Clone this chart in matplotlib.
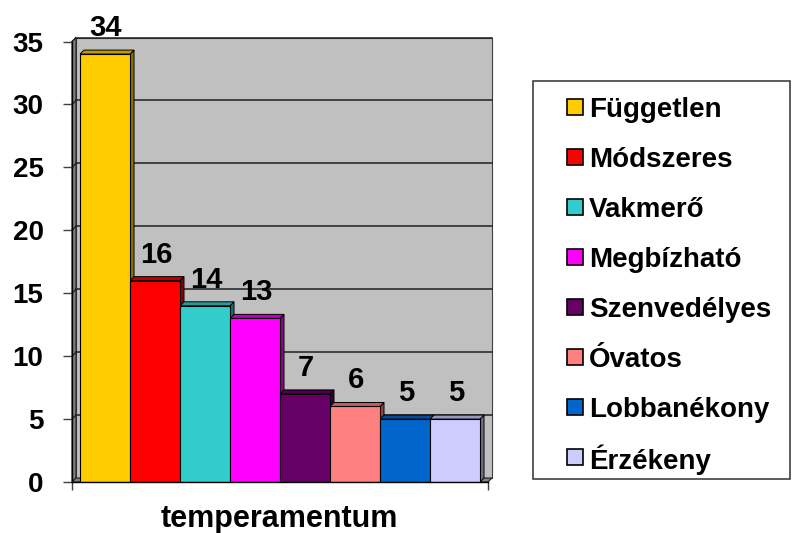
import matplotlib
matplotlib.use("Agg")
import matplotlib.pyplot as plt
from matplotlib.patches import Rectangle, Polygon

plt.rcParams['font.family'] = ['Liberation Sans', 'DejaVu Sans']

categories = ["Független", "Módszeres", "Vakmerő", "Megbízható",
              "Szenvedélyes", "Óvatos", "Lobbanékony", "Érzékeny"]
values = [34, 16, 14, 13, 7, 6, 5, 5]
colors = ["#FFCC00", "#FF0000", "#33CCCC", "#FF00FF",
          "#660066", "#FF8080", "#0066CC", "#CCCCFF"]
yticks = [0, 5, 10, 15, 20, 25, 30, 35]
xlabel = "temperamentum"

W, H = 795, 533
fig = plt.figure(figsize=(W / 100, H / 100), dpi=100)

def fx(px):
    return px / W

def fy(py):
    return 1 - py / H

# front plane of the plot: x 72..488 px, y 41.5 (35) .. 482 (0)
left, right, top, bottom = 72, 488, 41.5, 482
ax = fig.add_axes([fx(left), fy(bottom), fx(right) - fx(left), fy(top) - fy(bottom)])
ax.set_facecolor('none')
n = len(values)
xmin, xmax = -0.16, n + 0.16
ymax = 35
ax.set_xlim(xmin, xmax)
ax.set_ylim(0, ymax)

# depth offset (4 px) in data units
depth_px = 4
dx = depth_px * (xmax - xmin) / (right - left)
dy = depth_px * ymax / (bottom - top)

# walls
ax.add_patch(Rectangle((xmin + dx, dy), xmax - xmin, ymax, facecolor='#C0C0C0',
                       edgecolor='#404040', lw=0.8, zorder=0.5, clip_on=False))
ax.add_patch(Polygon([(xmin, 0), (xmin, ymax), (xmin + dx, ymax + dy), (xmin + dx, dy)],
                     closed=True, facecolor='#808080', edgecolor='#202020', lw=0.8,
                     zorder=0.6, clip_on=False))
ax.add_patch(Polygon([(xmin, 0), (xmax, 0), (xmax + dx, dy), (xmin + dx, dy)],
                     closed=True, facecolor='#808080', edgecolor='#202020', lw=0.8,
                     zorder=0.6, clip_on=False))
for t in yticks[1:]:
    ax.plot([xmin + dx, xmax + dx], [t + dy, t + dy], color='#202020', lw=1.1,
            zorder=0.7, clip_on=False)
    ax.plot([xmin, xmin + dx], [t, t + dy], color='#202020', lw=0.9,
            zorder=0.7, clip_on=False)

def darker(c, f=0.6):
    r, g, b = matplotlib.colors.to_rgb(c)
    return (r * f, g * f, b * f)

xs = list(range(n))
for i, (v, c) in enumerate(zip(values, colors)):
    x0, x1 = xs[i], xs[i] + 1
    ax.add_patch(Polygon([(x1, 0), (x1, v), (x1 + dx, v + dy), (x1 + dx, dy)], closed=True,
                         facecolor=darker(c, 0.55), edgecolor='black', lw=0.7,
                         zorder=2, clip_on=False))
    ax.add_patch(Polygon([(x0, v), (x1, v), (x1 + dx, v + dy), (x0 + dx, v + dy)], closed=True,
                         facecolor=darker(c, 0.75), edgecolor='black', lw=0.7,
                         zorder=3, clip_on=False))
ax.bar(xs, values, width=1, align='edge', color=colors, edgecolor='black',
       linewidth=0.8, zorder=4)

for i, v in enumerate(values):
    ax.annotate(str(v), (xs[i] + 0.5, v), xytext=(0.7, 18 * 0.72), textcoords='offset points',
                ha='center', va='baseline', fontsize=21, fontweight='bold', zorder=6)

# axes styling
for s in ['top', 'right']:
    ax.spines[s].set_visible(False)
for s in ['left', 'bottom']:
    ax.spines[s].set_color('black')
    ax.spines[s].set_linewidth(1.0)
    ax.spines[s].set_zorder(5)
ax.set_yticks(yticks)
ax.set_yticklabels([str(t) for t in yticks], fontsize=20, fontweight='bold')
ax.tick_params(axis='y', length=6.5, width=1, color='#404040', pad=14)
ax.set_xticks([xmin, xmax])
ax.set_xticklabels([])
ax.tick_params(axis='x', length=6, width=1, color='#404040')

fig.text(fx(279), fy(527), xlabel, ha='center', va='baseline', fontsize=22,
         fontweight='bold')

# legend
lg_l, lg_r, lg_t, lg_b = 533, 790, 81, 479
fig.patches.append(Rectangle((fx(lg_l), fy(lg_b)), fx(lg_r) - fx(lg_l), fy(lg_t) - fy(lg_b),
                             transform=fig.transFigure, facecolor='white',
                             edgecolor='#404040', lw=1.2, zorder=0))
first_y, step = 107, 50
msz = 16
for i, (lab, c) in enumerate(zip(categories, colors)):
    yc = first_y + i * step
    fig.patches.append(Rectangle((fx(567), fy(yc + msz / 2)), fx(msz), msz / H,
                                 transform=fig.transFigure, facecolor=c,
                                 edgecolor='black', lw=1.2, zorder=2))
    fig.text(fx(589), fy(yc), lab, ha='left', va='center_baseline', fontsize=20,
             fontweight='bold')

fig.savefig('out.png', dpi=100)
